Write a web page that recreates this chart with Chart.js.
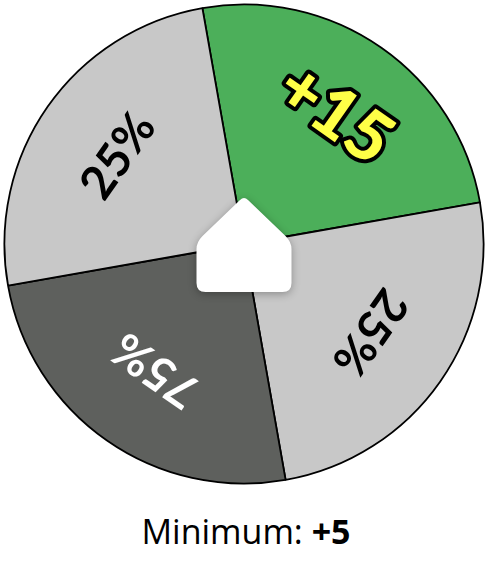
<!DOCTYPE html>
<html>
<head>
<meta charset="utf-8">
<script src="https://cdn.jsdelivr.net/npm/chart.js@4"></script>
<style>
  html, body { margin: 0; padding: 0; background: #ffffff; width: 490px; height: 567px; overflow: hidden; }
  #wrap { position: absolute; left: 0; top: 0; width: 488px; height: 488px; }
  #caption { position: absolute; left: 0; top: 508px; width: 492px; text-align: center;
    font-family: "Open Sans", "Noto Sans", sans-serif; font-size: 34px; color: #000; }
  #caption b { font-weight: 700; }
</style>
</head>
<body>
<div id="wrap"><canvas id="c"></canvas></div>
<div id="caption">Minimum: <b>+5</b></div>
<script>
// Wheel segments, clockwise starting at the segment that begins 10° left of top
const segmentLabels = ['+15', '25%', '75%', '25%'];
const segmentValues = [1, 1, 1, 1];
const segmentColors = ['#4caf5a', '#c8c8c8', '#5e605d', '#c8c8c8'];
const labelColors   = ['#ffff47', '#000000', '#ffffff', '#000000'];
const labelOutlined = [true, false, false, false];
const wheelRotation = -10;

const labelPlugin = {
  id: 'wheelLabels',
  afterDatasetsDraw(chart) {
    const ctx = chart.ctx;
    const meta = chart.getDatasetMeta(0);
    meta.data.forEach((arc, i) => {
      const p = arc.getProps(['x', 'y', 'startAngle', 'endAngle', 'outerRadius'], true);
      const mid = (p.startAngle + p.endAngle) / 2;
      const r = p.outerRadius * (labelOutlined[i] ? 0.66 : 0.64);
      const x = p.x + Math.cos(mid) * r;
      const y = p.y + Math.sin(mid) * r;
      ctx.save();
      ctx.translate(x, y);
      ctx.rotate(mid + Math.PI / 2);
      ctx.textAlign = 'center';
      ctx.textBaseline = 'middle';
      if (labelOutlined[i]) {
        ctx.font = '900 70px Lato, sans-serif';
        ctx.lineJoin = 'round';
        ctx.lineWidth = 8;
        ctx.strokeStyle = '#000000';
        ctx.strokeText(segmentLabels[i], 0, 0);
      } else {
        ctx.font = 'bold 47px Lato, sans-serif';
      }
      ctx.fillStyle = labelColors[i];
      ctx.fillText(segmentLabels[i], 0, 0);
      ctx.restore();
    });
  },
  afterDraw(chart) {
    const arc = chart.getDatasetMeta(0).data[0];
    const cx = arc.x, cy = arc.y;
    const ctx = chart.ctx;
    const hw = 47.5, top = cy - 47, sh = cy - 2, bot = cy + 48, rr = 9;
    ctx.save();
    ctx.shadowColor = 'rgba(0,0,0,0.3)';
    ctx.shadowBlur = 8;
    ctx.shadowOffsetY = 2;
    ctx.fillStyle = '#ffffff';
    ctx.beginPath();
    ctx.moveTo(cx - hw, bot - rr);
    ctx.lineTo(cx - hw, sh + 7);
    ctx.quadraticCurveTo(cx - hw, sh, cx - hw + 6, sh - 6);
    ctx.lineTo(cx - 4, top + 3);
    ctx.quadraticCurveTo(cx, top - 1, cx + 4, top + 3);
    ctx.lineTo(cx + hw - 6, sh - 6);
    ctx.quadraticCurveTo(cx + hw, sh, cx + hw, sh + 7);
    ctx.lineTo(cx + hw, bot - rr);
    ctx.quadraticCurveTo(cx + hw, bot, cx + hw - rr, bot);
    ctx.lineTo(cx - hw + rr, bot);
    ctx.quadraticCurveTo(cx - hw, bot, cx - hw, bot - rr);
    ctx.closePath();
    ctx.fill();
    ctx.restore();
  }
};

new Chart(document.getElementById('c'), {
  type: 'pie',
  data: {
    labels: segmentLabels,
    datasets: [{
      data: segmentValues,
      backgroundColor: segmentColors,
      borderColor: '#000000',
      borderWidth: 1.8,
      hoverOffset: 0,
      offset: 0
    }]
  },
  options: {
    responsive: true,
    maintainAspectRatio: false,
    animation: false,
    rotation: wheelRotation,
    layout: { padding: 3.5 },
    events: [],
    plugins: {
      legend: { display: false },
      tooltip: { enabled: false }
    }
  },
  plugins: [labelPlugin]
});
</script>
</body>
</html>
